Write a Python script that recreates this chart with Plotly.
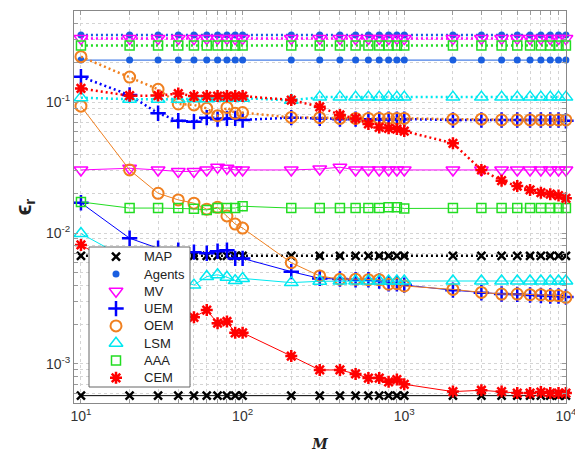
import plotly.graph_objects as go

M = [10, 20, 30, 40, 50, 60, 70, 80, 90, 100,
     200, 300, 400, 500, 600, 700, 800, 900, 1000,
     2000, 3000, 4000, 5000, 6000, 7000, 8000, 9000, 10000]
N = len(M)

methods = ["MAP", "Agents", "MV", "UEM", "OEM", "LSM", "AAA", "CEM"]

# dotted-line (upper) series
map_dot = [0.0067] * N
agents_dot = [0.325] * N
mv_dot = [0.305] * N
uem_dot = [0.156, 0.113, 0.082, 0.072, 0.0708, 0.076, 0.074, 0.075, 0.075, 0.073,
           0.076, 0.075, 0.074, 0.074, 0.074, 0.074, 0.074, 0.074, 0.074,
           0.073, 0.073, 0.073, 0.073, 0.073, 0.073, 0.073, 0.073, 0.072]
oem_dot = [0.222, 0.155, 0.125, 0.0966, 0.095, 0.0895, 0.0786, 0.091, 0.082, 0.083,
           0.0763, 0.076, 0.075, 0.075, 0.075, 0.075, 0.075, 0.075, 0.075,
           0.074, 0.074, 0.073, 0.073, 0.073, 0.073, 0.073, 0.073, 0.073]
lsm_dot = [0.108, 0.105, 0.105, 0.105, 0.106, 0.106, 0.107, 0.107, 0.107, 0.107,
           0.103, 0.109, 0.109, 0.109, 0.109, 0.109, 0.109, 0.109, 0.109,
           0.109, 0.109, 0.109, 0.109, 0.109, 0.109, 0.109, 0.109, 0.109]
aaa_dot = [0.27] * N
cem_dot = [0.127, 0.1117, 0.112, 0.116, 0.111, 0.111, 0.111, 0.111, 0.111, 0.111,
           0.1036, 0.092, 0.0796, 0.075, 0.068, 0.064, 0.063, 0.0622, 0.060,
           0.0484, 0.0303, 0.0251, 0.0228, 0.0213, 0.0203, 0.0198, 0.0193, 0.0184]

# solid-line (lower) series
map_sol = [0.000573] * N
agents_sol = [0.209] * N
mv_sol = [0.0303, 0.0312, 0.0303, 0.0295, 0.0295, 0.0303, 0.0318, 0.0312, 0.0303, 0.0303,
          0.0303, 0.0308, 0.0318, 0.0303, 0.0303, 0.0303, 0.0303, 0.0303, 0.0303,
          0.0303, 0.0303, 0.0303, 0.0303, 0.0303, 0.0303, 0.0303, 0.0303, 0.0303]
uem_sol = [0.0170, 0.00912, 0.00765, 0.0074, 0.00714, 0.0070, 0.00726, 0.0074, 0.0064, 0.0064,
           0.00507, 0.0045, 0.00445, 0.0044, 0.0044, 0.0043, 0.0041, 0.0041, 0.0040,
           0.00366, 0.0035, 0.00342, 0.0034, 0.00336, 0.00333, 0.0033, 0.0033, 0.00325]
oem_sol = [0.093, 0.0303, 0.0201, 0.0179, 0.0169, 0.0152, 0.0157, 0.0135, 0.0117, 0.0109,
           0.00593, 0.0047, 0.00444, 0.00444, 0.0044, 0.0044, 0.00406, 0.0041, 0.00394,
           0.00371, 0.00352, 0.00342, 0.00342, 0.00338, 0.00338, 0.00333, 0.00333, 0.00323]
lsm_sol = [0.0099, 0.0062, 0.0050, 0.0044, 0.0040, 0.00465, 0.0048, 0.0046, 0.00433, 0.0045,
           0.00418, 0.00428, 0.0043, 0.0043, 0.0043, 0.0043, 0.0043, 0.0043, 0.0043,
           0.0043, 0.0043, 0.0043, 0.0043, 0.0043, 0.0043, 0.0043, 0.0043, 0.0043]
aaa_sol = [0.01726, 0.0155, 0.0155, 0.0155, 0.0153, 0.0150, 0.0155, 0.0155, 0.0155, 0.0160,
           0.0155, 0.0155, 0.0155, 0.0155, 0.0155, 0.0155, 0.0157, 0.0157, 0.0154,
           0.0155, 0.0155, 0.0155, 0.0155, 0.0155, 0.0155, 0.0155, 0.0155, 0.0155]
cem_sol = [0.0081, 0.0050, 0.0035, 0.0028, 0.00227, 0.00258, 0.00205, 0.00211, 0.00173, 0.00173,
           0.00115, 0.0009, 0.0009, 0.00084, 0.00078, 0.00078, 0.00073, 0.00076, 0.0007,
           0.000615, 0.00063, 0.000615, 0.0006, 0.0006, 0.00061, 0.0006, 0.0006, 0.0006]

x_decades = [10, 100, 1000, 10000]
x_decade_labels = ["10<sup>1</sup>", "10<sup>2</sup>", "10<sup>3</sup>", "10<sup>4</sup>"]
y_decades = [0.0001, 0.001, 0.01, 0.1, 1.0]
y_decade_labels = ["", "10<sup>-3</sup>", "10<sup>-2</sup>", "10<sup>-1</sup>", ""]

# full set of grid positions (1..9 per decade), labelled only at decades
xtick_vals, xtick_text = [], []
for d, lab in zip(x_decades, x_decade_labels):
    for k in range(1, 10):
        v = d * k
        if v > 10000:
            break
        xtick_vals.append(v)
        xtick_text.append(lab if k == 1 else "")
ytick_vals, ytick_text = [], []
for d, lab in zip(y_decades, y_decade_labels):
    for k in range(1, 10):
        ytick_vals.append(d * k)
        ytick_text.append(lab if k == 1 else "")

styles = {
    "MAP":    dict(color="#000000", symbol="x-thin-open", size=8, lw=2.5, mcolor="#000000"),
    "Agents": dict(color="#1a5fe0", symbol="circle", size=7, lw=0, mcolor="#1a5fe0"),
    "MV":     dict(color="#ff00ff", symbol="triangle-down-open", size=12, lw=1.5, mcolor="#ff00ff"),
    "UEM":    dict(color="#0000ff", symbol="cross-thin-open", size=11, lw=2.5, mcolor="#0000ff"),
    "OEM":    dict(color="#f08020", symbol="circle-open", size=11, lw=2, mcolor="#f08020"),
    "LSM":    dict(color="#00e8f0", symbol="triangle-up-open", size=12, lw=1.5, mcolor="#00e8f0"),
    "AAA":    dict(color="#22dd22", symbol="square-open", size=9, lw=1.5, mcolor="#22dd22"),
    "CEM":    dict(color="#ff0000", symbol="asterisk-open", size=10, lw=2.5, mcolor="#ff0000"),
}

dot_data = [map_dot, agents_dot, mv_dot, uem_dot, oem_dot, lsm_dot, aaa_dot, cem_dot]
sol_data = [map_sol, agents_sol, mv_sol, uem_sol, oem_sol, lsm_sol, aaa_sol, cem_sol]

fig = go.Figure()

def marker_for(s):
    return dict(symbol=s["symbol"], size=s["size"], color=s["mcolor"],
                line=dict(width=s["lw"], color=s["mcolor"]))

for name, yd, ys in zip(methods, dot_data, sol_data):
    s = styles[name]
    fig.add_trace(go.Scatter(x=M, y=ys, mode="lines+markers", showlegend=False,
                             line=dict(color=s["color"], width=1),
                             marker=marker_for(s), cliponaxis=False, hoverinfo="skip"))
    fig.add_trace(go.Scatter(x=M, y=yd, mode="lines+markers", showlegend=False,
                             line=dict(color=s["color"], width=2.5, dash="2px,3px"),
                             marker=marker_for(s), cliponaxis=False, hoverinfo="skip"))

# ---- custom legend box on an overlay axis spanning [0,1] x [0,1] of the plot area ----
W_PLOT, H_PLOT, L0, B0 = 492.0, 392.0, 74.0, 403.0
def px_x(p):
    return (p - L0) / W_PLOT
def px_y(p):
    return (B0 - p) / H_PLOT

bx0, bx1, by0, by1 = px_x(89), px_x(190), px_y(387), px_y(247)
fig.add_trace(go.Scatter(x=[bx0, bx1, bx1, bx0, bx0], y=[by0, by0, by1, by1, by0],
                         xaxis="x2", yaxis="y2", mode="lines", fill="toself",
                         fillcolor="white", line=dict(color="#666666", width=1),
                         showlegend=False, hoverinfo="skip"))
for i, name in enumerate(methods):
    s = styles[name]
    yy = px_y(256.7 + 17.3 * i)
    fig.add_trace(go.Scatter(x=[px_x(116)], y=[yy], xaxis="x2", yaxis="y2",
                             mode="markers", marker=marker_for(s),
                             showlegend=False, hoverinfo="skip"))
    fig.add_annotation(x=px_x(142), y=yy, xref="x2", yref="y2", text=name,
                       showarrow=False, xanchor="left", yanchor="middle",
                       font=dict(size=13, color="#222222"))

common = dict(type="log", showline=True, linecolor="#888888", linewidth=1, mirror="ticks",
              ticks="inside", ticklen=4, tickcolor="#999999",
              showgrid=True, gridcolor="#d4d4d4", gridwidth=1, griddash="dot",
              zeroline=False, automargin=False, ticklabeloverflow="allow")

fig.update_layout(
    width=575, height=454,
    margin=dict(l=74, r=9, t=11, b=51),
    paper_bgcolor="white", plot_bgcolor="white",
    showlegend=False,
    font=dict(family="Liberation Sans, Arial, sans-serif", size=14, color="#333333"),
    xaxis=dict(range=[0.957, 4.0005], tickvals=xtick_vals, ticktext=xtick_text,
               title=dict(text="<b><i>M</i></b>", standoff=16,
                          font=dict(family="DejaVu Serif, serif", size=14, color="#222222")),
               **common),
    yaxis=dict(range=[-3.298, -0.305], tickvals=ytick_vals, ticktext=ytick_text,
               title=dict(text="<b>ϵ<sub>r</sub></b>", standoff=8,
                          font=dict(size=22, color="#222222")),
               **common),
    xaxis2=dict(overlaying="x", range=[0, 1], visible=False, fixedrange=True),
    yaxis2=dict(overlaying="y", range=[0, 1], visible=False, fixedrange=True),
)

fig.write_html("out.html", config={"displayModeBar": False},
               post_script="document.body.style.margin='0';document.body.style.overflow='hidden';")
